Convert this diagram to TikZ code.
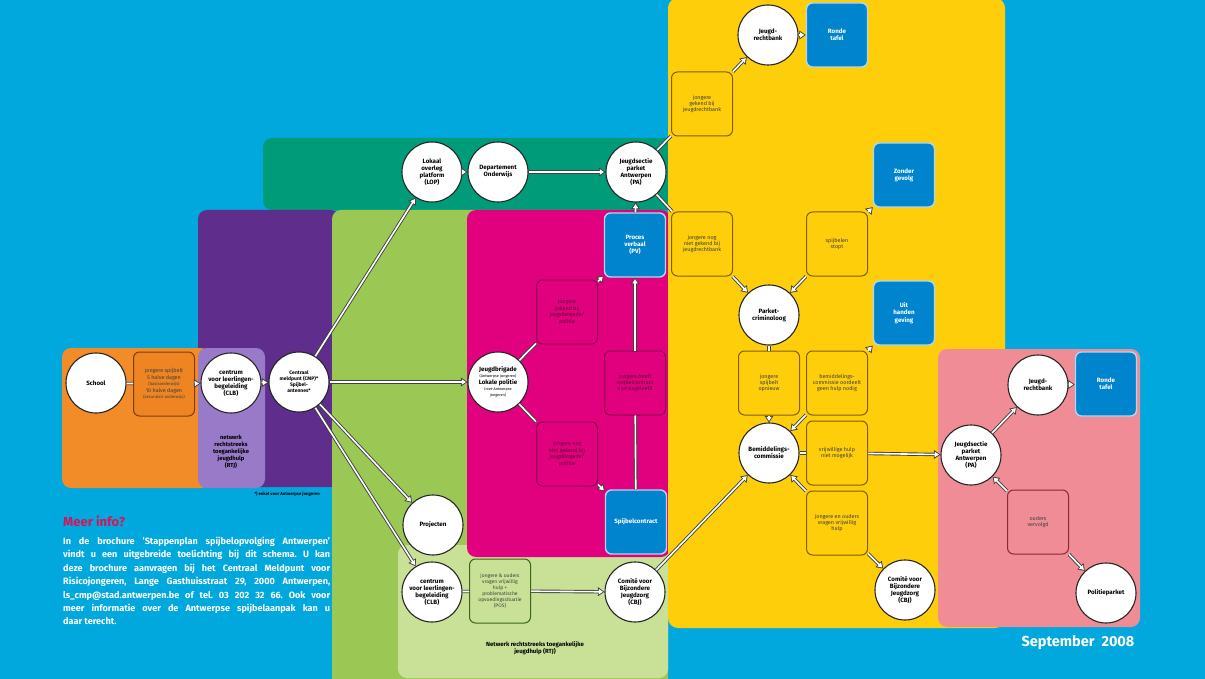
\documentclass[tikz,border=0pt]{standalone}
\usepackage{fontspec}
\setmainfont{Fira Sans}
\usetikzlibrary{arrows.meta}
\definecolor{bgcyan}{RGB}{0,168,222}
\definecolor{cteal}{RGB}{0,155,120}
\definecolor{cpurple}{RGB}{95,45,140}
\definecolor{clpurple}{RGB}{152,122,200}
\definecolor{corange}{RGB}{242,140,40}
\definecolor{corangeb}{RGB}{238,132,34}
\definecolor{corangebd}{RGB}{130,60,10}
\definecolor{cgreen}{RGB}{155,200,85}
\definecolor{cpaleg}{RGB}{200,225,150}
\definecolor{cpalegd}{RGB}{60,100,30}
\definecolor{cpink}{RGB}{225,0,125}
\definecolor{cpinkd}{RGB}{135,0,75}
\definecolor{cyellow}{RGB}{255,206,10}
\definecolor{cyellowd}{RGB}{125,95,0}
\definecolor{csalmon}{RGB}{240,140,150}
\definecolor{csalmond}{RGB}{140,40,50}
\definecolor{cblue}{RGB}{0,132,205}
\definecolor{cbluel}{RGB}{175,215,240}
\definecolor{ccrimson}{RGB}{215,20,90}
\tikzset{
  circ/.style={circle, draw=black!85, line width=1.1pt, fill=white, minimum size=60pt, inner sep=0pt, align=center, font=\fontsize{6.2}{7}\selectfont\bfseries},
  box/.style={rounded corners=6pt, line width=1pt, minimum width=61pt, minimum height=64pt, inner sep=1pt, align=center, font=\fontsize{5.4}{6.4}\selectfont, text=black!75},
  ybox/.style={box, fill=cyellow, draw=cyellowd},
  pbox/.style={box, fill=cpink, draw=cpinkd, text=cpinkd!70!black},
  obox/.style={box, fill=corangeb, draw=corangebd},
  gbox/.style={box, fill=cpaleg, draw=cpalegd},
  sbox/.style={box, fill=csalmon, draw=csalmond},
  bbox/.style={box, fill=cblue, draw=cbluel, line width=1.4pt, text=white, font=\fontsize{6.2}{7.2}\selectfont\bfseries},
  pipe/.style={draw=black!75, line width=3.4pt, -{Triangle[length=6.5pt,width=8.5pt]},
    postaction={draw=white, line width=1.6pt, -{Triangle[length=4.2pt,width=5.2pt]}, shorten >=1.5pt}},
  pipel/.style={draw=black!75, line width=3.4pt, postaction={draw=white, line width=1.6pt}},
  lbl/.style={align=center, font=\fontsize{6}{7}\selectfont\bfseries, text=black},
}
\begin{document}
\frenchspacing
\begin{tikzpicture}[x=1pt,y=-1pt]
\useasboundingbox (0,0) rectangle (1205,679);
\fill[bgcyan] (0,0) rectangle (1205,679);
% regions
\fill[cteal, rounded corners=9pt] (263,138) rectangle (700,210);
\fill[cpurple, rounded corners=9pt] (198,210) rectangle (340,487);
\fill[cgreen, rounded corners=9pt] (332,210) rectangle (668,700);
\fill[cpaleg, rounded corners=9pt] (398,545) rectangle (668,678);
\fill[cpink, rounded corners=9pt] (467,210) rectangle (670,557);
\fill[corange, rounded corners=9pt] (62,348) rectangle (210,488);
\fill[clpurple, rounded corners=9pt] (198,348) rectangle (265,488);
\fill[cyellow, rounded corners=10pt] (668,-2) rectangle (1005,628);
\fill[csalmon, rounded corners=9pt] (938,349) rectangle (1140,627);

% circles
\node[circ] (school) at (96,383) {School};
\node[circ] (clb1) at (231,383) {centrum\\voor leerlingen-\\begeleiding\\(CLB)};
\node[circ, font=\fontsize{5}{6}\selectfont\bfseries] (cmp) at (299,382) {Centraal\\meldpunt (CMP)*\\Spijbel-\\antennes*};
\node[circ] (lop) at (432,172) {Lokaal\\overleg\\platform\\(LOP)};
\node[circ] (dep) at (498,172) {Departement\\Onderwijs};
\node[circ] (pa1) at (636,172) {Jeugdsectie\\parket\\Antwerpen\\(PA)};
\node[circ] (jb) at (498,382) {Jeugdbrigade\\[-1pt]{\fontsize{3.8}{4.5}\selectfont\mdseries (Antwerpse jongeren)}\\Lokale politie\\[-1pt]{\fontsize{3.8}{4.5}\selectfont\mdseries (niet-Antwerpse}\\[-1pt]{\fontsize{3.8}{4.5}\selectfont\mdseries jongeren)}};
\node[circ] (proj) at (433,525) {Projecten};
\node[circ] (clb2) at (432,592) {centrum\\voor leerlingen-\\begeleiding\\(CLB)};
\node[circ] (cbj1) at (635,592) {Comité voor\\Bijzondere\\Jeugdzorg\\(CBJ)};
\node[circ] (jr1) at (768,35) {Jeugd-\\rechtbank};
\node[circ] (crim) at (769,315) {Parket-\\criminoloog};
\node[circ] (bem) at (769,453) {Bemiddelings-\\commissie};
\node[circ] (cbj2) at (905,590) {Comité voor\\Bijzondere\\Jeugdzorg\\(CBJ)};
\node[circ] (pa2) at (971,455) {Jeugdsectie\\parket\\Antwerpen\\(PA)};
\node[circ] (jr2) at (1038,385) {Jeugd-\\rechtbank};
\node[circ] (pp) at (1106,593) {Politieparket};

% boxes
\node[obox] (spijbelt) at (164,384) {jongere spijbelt\\5 halve dagen\\{\fontsize{4.2}{5}\selectfont (basisonderwijs)}\\10 halve dagen\\{\fontsize{4.2}{5}\selectfont (secundair onderwijs)}};
\node[bbox] (pv) at (635,245) {Proces\\verbaal\\(PV)};
\node[pbox] (pk1) at (567,312) {jongere\\gekend bij\\jeugdbrigade/\\politie};
\node[pbox] (pk2) at (635,383) {jongere heeft\\spijbelcontract\\niet nageleefd};
\node[pbox] (pk3) at (567,454) {jongere nog\\niet gekend bij\\jeugdbrigade/\\politie};
\node[bbox] (spc) at (636,522) {Spijbelcontract};
\node[gbox, font=\fontsize{5}{6}\selectfont] (pos) at (500,591) {jongere \& ouders\\vragen vrijwillig\\hulp +\\problematische\\opvoedingssituatie\\(POS)};
\node[bbox] (rt1) at (837,35) {Ronde\\tafel};
\node[ybox] (y1) at (702,104) {jongere\\gekend bij\\jeugdrechtbank};
\node[ybox] (y2) at (702,244) {jongere nog\\niet gekend bij\\jeugdrechtbank};
\node[ybox] (y3) at (837,244) {spijbelen\\stopt};
\node[bbox] (zg) at (904,175) {Zonder\\gevolg};
\node[bbox] (uh) at (904,313) {Uit\\handen\\geving};
\node[ybox] (y4) at (769,383) {jongere\\spijbelt\\opnieuw};
\node[ybox] (y5) at (837,383) {bemiddelings-\\commissie oordeelt\\geen hulp nodig};
\node[ybox] (y6) at (837,453) {vrijwillige hulp\\niet mogelijk};
\node[ybox] (y7) at (837,523) {jongere en ouders\\vragen vrijwillig\\hulp};
\node[bbox] (rt2) at (1106,384) {Ronde\\tafel};
\node[sbox] (ov) at (1038,522) {ouders\\vervolgd};

% labels
\node[lbl, font=\fontsize{5.8}{7}\selectfont\bfseries] (rtj1) at (231,452) {netwerk\\rechtstreeks\\toegankelijke\\jeugdhulp\\(RTJ)};
\node[font=\fontsize{4.3}{5}\selectfont\bfseries, text=black] (fn) at (287,494) {*) enkel voor Antwerpse jongeren};
\node[lbl] (rtj2) at (535,648) {Netwerk rechtstreeks toegankelijke\\jeugdhulp (RTJ)};
\node[anchor=west, inner sep=0pt, text=ccrimson, font=\fontsize{13}{15}\selectfont\bfseries] (meer) at (63,521) {Meer info?};
\node[anchor=north west, inner sep=0pt, text=white, align=left, font=\fontsize{9.1}{13.4}\selectfont\bfseries] (info) at (63,537) {%
\makebox[267pt][s]{In de brochure 'Stappenplan spijbelopvolging Antwerpen'}\\
\makebox[267pt][s]{vindt u een uitgebreide toelichting bij dit schema. U kan}\\
\makebox[267pt][s]{deze brochure aanvragen bij het Centraal Meldpunt voor}\\
\makebox[267pt][s]{Risicojongeren, Lange Gasthuisstraat 29, 2000 Antwerpen,}\\
\makebox[267pt][s]{ls\_cmp@stad.antwerpen.be of tel. 03 202 32 66. Ook voor}\\
\makebox[267pt][s]{meer informatie over de Antwerpse spijbelaanpak kan u}\\
daar terecht.};
\node[text=white, font=\fontsize{14.5}{16}\selectfont\bfseries] (sept) at (1078,643) {September\ \ 2008};

% connectors
\draw[pipel] (school) -- (spijbelt);
\draw[pipe] (spijbelt) -- (clb1);
\draw[pipe] (clb1) -- (cmp);
\draw[pipe] (cmp) -- (lop);
\draw[pipe] (lop) -- (dep);
\draw[pipe] (dep) -- (pa1);
\draw[pipe] (cmp) -- (jb);
\draw[pipe] (cmp) -- (proj);
\draw[pipe] (cmp) -- (clb2);
\draw[pipel] (jb) -- (pk1);
\draw[pipe] (pk1) -- (pv);
\draw[pipel] (jb) -- (pk3);
\draw[pipe] (pk3) -- (spc);
\draw[pipel] (spc) -- (pk2);
\draw[pipe] (pk2) -- (pv);
\draw[pipe] (pv) -- (pa1);
\draw[pipel] (pa1) -- (y1);
\draw[pipe] (y1) -- (jr1);
\draw[pipe] (jr1) -- (rt1);
\draw[pipel] (pa1) -- (y2);
\draw[pipe] (y2) -- (crim);
\draw[pipe] (y3) -- (crim);
\draw[pipe] (y3) -- (zg);
\draw[pipel] (crim) -- (y4);
\draw[pipe] (y4) -- (bem);
\draw[pipe] (y5) -- (bem);
\draw[pipe] (y5) -- (uh);
\draw[pipel] (bem) -- (y6);
\draw[pipe] (y6) -- (pa2);
\draw[pipe] (y7) -- (bem);
\draw[pipe] (y7) -- (cbj2);
\draw[pipe] (cbj1) -- (bem);
\draw[pipel] (clb2) -- (pos);
\draw[pipe] (pos) -- (cbj1);
\draw[pipe] (pa2) -- (jr2);
\draw[pipe] (jr2) -- (rt2);
\draw[pipe] (ov) -- (pa2);
\draw[pipe] (ov) -- (pp);
\end{tikzpicture}
\end{document}
